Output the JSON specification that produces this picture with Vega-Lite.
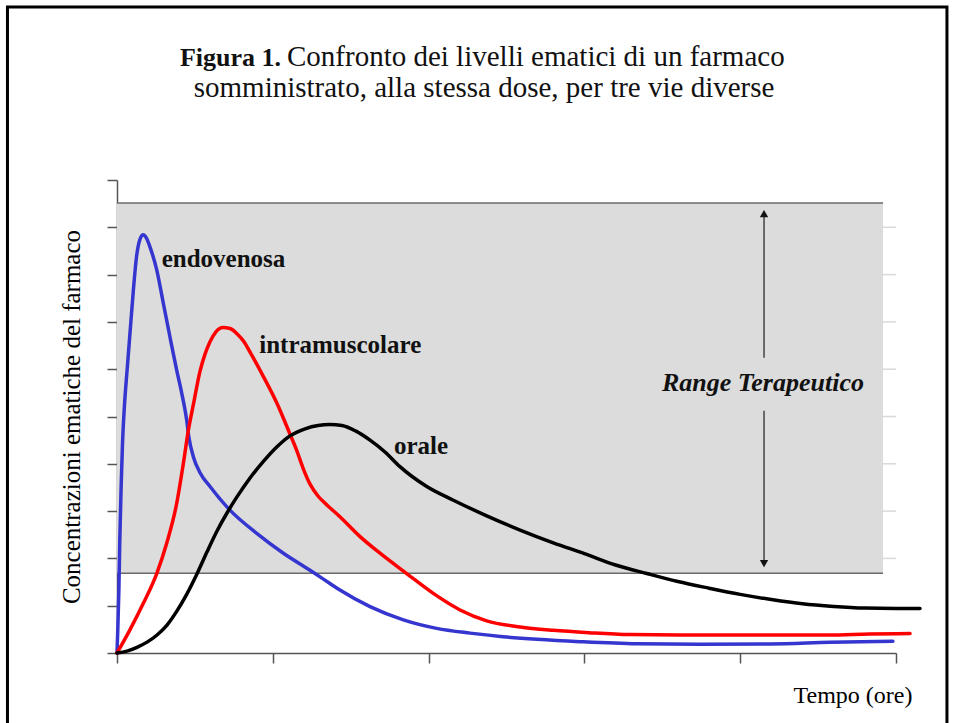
{
  "$schema": "https://vega.github.io/schema/vega-lite/v6.json",
  "width": 779,
  "height": 473,
  "autosize": {"type": "none"},
  "padding": {"left": 117, "top": 180, "right": 58, "bottom": 70},
  "background": "white",
  "config": {"view": {"stroke": null}, "font": "Liberation Serif"},
  "datasets": {
    "curves": [
      {"via": "endovenosa", "t": 0, "c": 0},
      {"via": "endovenosa", "t": 0.005, "c": 0.49},
      {"via": "endovenosa", "t": 0.012, "c": 1.33},
      {"via": "endovenosa", "t": 0.018, "c": 2.39},
      {"via": "endovenosa", "t": 0.026, "c": 3.45},
      {"via": "endovenosa", "t": 0.035, "c": 4.4},
      {"via": "endovenosa", "t": 0.048, "c": 5.24},
      {"via": "endovenosa", "t": 0.066, "c": 6.03},
      {"via": "endovenosa", "t": 0.085, "c": 6.83},
      {"via": "endovenosa", "t": 0.105, "c": 7.67},
      {"via": "endovenosa", "t": 0.125, "c": 8.37},
      {"via": "endovenosa", "t": 0.144, "c": 8.71},
      {"via": "endovenosa", "t": 0.167, "c": 8.84},
      {"via": "endovenosa", "t": 0.189, "c": 8.77},
      {"via": "endovenosa", "t": 0.212, "c": 8.58},
      {"via": "endovenosa", "t": 0.255, "c": 8.1},
      {"via": "endovenosa", "t": 0.297, "c": 7.4},
      {"via": "endovenosa", "t": 0.34, "c": 6.68},
      {"via": "endovenosa", "t": 0.383, "c": 5.98},
      {"via": "endovenosa", "t": 0.415, "c": 5.5},
      {"via": "endovenosa", "t": 0.447, "c": 4.93},
      {"via": "endovenosa", "t": 0.462, "c": 4.55},
      {"via": "endovenosa", "t": 0.49, "c": 4.15},
      {"via": "endovenosa", "t": 0.533, "c": 3.81},
      {"via": "endovenosa", "t": 0.597, "c": 3.52},
      {"via": "endovenosa", "t": 0.725, "c": 3.02},
      {"via": "endovenosa", "t": 0.897, "c": 2.53},
      {"via": "endovenosa", "t": 1.068, "c": 2.11},
      {"via": "endovenosa", "t": 1.239, "c": 1.75},
      {"via": "endovenosa", "t": 1.367, "c": 1.47},
      {"via": "endovenosa", "t": 1.431, "c": 1.33},
      {"via": "endovenosa", "t": 1.624, "c": 0.98},
      {"via": "endovenosa", "t": 1.838, "c": 0.7},
      {"via": "endovenosa", "t": 2.052, "c": 0.52},
      {"via": "endovenosa", "t": 2.266, "c": 0.42},
      {"via": "endovenosa", "t": 2.477, "c": 0.345},
      {"via": "endovenosa", "t": 2.696, "c": 0.29},
      {"via": "endovenosa", "t": 2.972, "c": 0.24},
      {"via": "endovenosa", "t": 3.338, "c": 0.195},
      {"via": "endovenosa", "t": 3.742, "c": 0.185},
      {"via": "endovenosa", "t": 4.19, "c": 0.19},
      {"via": "endovenosa", "t": 4.576, "c": 0.225},
      {"via": "endovenosa", "t": 4.98, "c": 0.25},
      {"via": "intramuscolare", "t": 0, "c": 0},
      {"via": "intramuscolare", "t": 0.083, "c": 0.49},
      {"via": "intramuscolare", "t": 0.169, "c": 1.05},
      {"via": "intramuscolare", "t": 0.255, "c": 1.68},
      {"via": "intramuscolare", "t": 0.319, "c": 2.32},
      {"via": "intramuscolare", "t": 0.383, "c": 3.16},
      {"via": "intramuscolare", "t": 0.426, "c": 4.01},
      {"via": "intramuscolare", "t": 0.458, "c": 4.71},
      {"via": "intramuscolare", "t": 0.49, "c": 5.25},
      {"via": "intramuscolare", "t": 0.533, "c": 5.96},
      {"via": "intramuscolare", "t": 0.565, "c": 6.32},
      {"via": "intramuscolare", "t": 0.597, "c": 6.58},
      {"via": "intramuscolare", "t": 0.635, "c": 6.79},
      {"via": "intramuscolare", "t": 0.68, "c": 6.88},
      {"via": "intramuscolare", "t": 0.725, "c": 6.86},
      {"via": "intramuscolare", "t": 0.77, "c": 6.75},
      {"via": "intramuscolare", "t": 0.815, "c": 6.58},
      {"via": "intramuscolare", "t": 0.854, "c": 6.36},
      {"via": "intramuscolare", "t": 0.937, "c": 5.86},
      {"via": "intramuscolare", "t": 1.025, "c": 5.29},
      {"via": "intramuscolare", "t": 1.11, "c": 4.63},
      {"via": "intramuscolare", "t": 1.155, "c": 4.27},
      {"via": "intramuscolare", "t": 1.194, "c": 3.91},
      {"via": "intramuscolare", "t": 1.239, "c": 3.57},
      {"via": "intramuscolare", "t": 1.29, "c": 3.32},
      {"via": "intramuscolare", "t": 1.354, "c": 3.11},
      {"via": "intramuscolare", "t": 1.431, "c": 2.88},
      {"via": "intramuscolare", "t": 1.56, "c": 2.46},
      {"via": "intramuscolare", "t": 1.688, "c": 2.11},
      {"via": "intramuscolare", "t": 1.859, "c": 1.68},
      {"via": "intramuscolare", "t": 2.03, "c": 1.26},
      {"via": "intramuscolare", "t": 2.202, "c": 0.91},
      {"via": "intramuscolare", "t": 2.373, "c": 0.68},
      {"via": "intramuscolare", "t": 2.587, "c": 0.55},
      {"via": "intramuscolare", "t": 2.8, "c": 0.48},
      {"via": "intramuscolare", "t": 3.03, "c": 0.43},
      {"via": "intramuscolare", "t": 3.29, "c": 0.39},
      {"via": "intramuscolare", "t": 3.61, "c": 0.38},
      {"via": "intramuscolare", "t": 4.57, "c": 0.38},
      {"via": "intramuscolare", "t": 4.83, "c": 0.4},
      {"via": "intramuscolare", "t": 5.09, "c": 0.41},
      {"via": "orale", "t": 0, "c": 0},
      {"via": "orale", "t": 0.064, "c": 0.04},
      {"via": "orale", "t": 0.128, "c": 0.12},
      {"via": "orale", "t": 0.193, "c": 0.23},
      {"via": "orale", "t": 0.257, "c": 0.38},
      {"via": "orale", "t": 0.321, "c": 0.59},
      {"via": "orale", "t": 0.385, "c": 0.89},
      {"via": "orale", "t": 0.449, "c": 1.25},
      {"via": "orale", "t": 0.513, "c": 1.67},
      {"via": "orale", "t": 0.578, "c": 2.14},
      {"via": "orale", "t": 0.642, "c": 2.58},
      {"via": "orale", "t": 0.706, "c": 2.96},
      {"via": "orale", "t": 0.77, "c": 3.3},
      {"via": "orale", "t": 0.854, "c": 3.7},
      {"via": "orale", "t": 0.937, "c": 4.04},
      {"via": "orale", "t": 1.027, "c": 4.36},
      {"via": "orale", "t": 1.11, "c": 4.59},
      {"via": "orale", "t": 1.207, "c": 4.74},
      {"via": "orale", "t": 1.29, "c": 4.81},
      {"via": "orale", "t": 1.367, "c": 4.83},
      {"via": "orale", "t": 1.444, "c": 4.81},
      {"via": "orale", "t": 1.534, "c": 4.69},
      {"via": "orale", "t": 1.624, "c": 4.5},
      {"via": "orale", "t": 1.72, "c": 4.25},
      {"via": "orale", "t": 1.816, "c": 3.94},
      {"via": "orale", "t": 1.988, "c": 3.52},
      {"via": "orale", "t": 2.159, "c": 3.23},
      {"via": "orale", "t": 2.373, "c": 2.9},
      {"via": "orale", "t": 2.587, "c": 2.6},
      {"via": "orale", "t": 2.8, "c": 2.33},
      {"via": "orale", "t": 3.0, "c": 2.1},
      {"via": "orale", "t": 3.2, "c": 1.86},
      {"via": "orale", "t": 3.4, "c": 1.68},
      {"via": "orale", "t": 3.6, "c": 1.51},
      {"via": "orale", "t": 3.8, "c": 1.37},
      {"via": "orale", "t": 4.0, "c": 1.24},
      {"via": "orale", "t": 4.2, "c": 1.13},
      {"via": "orale", "t": 4.4, "c": 1.04},
      {"via": "orale", "t": 4.6, "c": 0.985},
      {"via": "orale", "t": 4.8, "c": 0.95},
      {"via": "orale", "t": 5.0, "c": 0.94},
      {"via": "orale", "t": 5.154, "c": 0.94}
    ],
    "labels": [
      {"text": "endovenosa", "t": 0.287, "c": 8.17},
      {"text": "intramuscolare", "t": 0.913, "c": 6.34},
      {"text": "orale", "t": 1.778, "c": 4.21}
    ]
  },
  "layer": [
    {
      "data": {"values": [{"x0": -0.703, "x1": 5.327, "y0": -1.9, "y1": 13.66}]},
      "mark": {"type": "rect", "fill": null, "fillOpacity": 0, "stroke": "black", "strokeWidth": 3},
      "encoding": {
        "x": {"field": "x0", "type": "quantitative", "scale": {"domain": [0, 5], "nice": false, "zero": false}, "axis": {"values": [0, 1, 2, 3, 4, 5], "labels": false, "grid": false, "ticks": true, "tickSize": 10, "tickColor": "#555", "tickWidth": 1.5, "domainColor": "#555", "domainWidth": 1.5, "title": "Tempo (ore)", "titleFont": "Liberation Serif", "titleFontSize": 24, "titleFontWeight": "normal", "titleColor": "black", "titleX": 795, "titleY": 49, "titleAlign": "right", "titleBaseline": "alphabetic"}},
        "x2": {"field": "x1"},
        "y": {"field": "y0", "type": "quantitative", "scale": {"domain": [0, 10], "nice": false, "zero": false}, "axis": {"values": [0, 1, 2, 3, 4, 5, 6, 7, 8, 9, 10], "labels": false, "grid": false, "ticks": true, "tickSize": 10, "tickColor": "#555", "tickWidth": 1.5, "domainColor": "#555", "domainWidth": 1.5, "title": "Concentrazioni ematiche del farmaco", "titleFont": "Liberation Serif", "titleFontSize": 25, "titleFontWeight": "normal", "titleColor": "black", "titlePadding": 22}},
        "y2": {"field": "y1"}
      }
    },
    {
      "data": {"values": [{"g": 2}, {"g": 3}, {"g": 4}, {"g": 5}, {"g": 6}, {"g": 7}, {"g": 8}, {"g": 9}]},
      "mark": {"type": "rule", "color": "#d9d9d9", "strokeWidth": 1.5},
      "encoding": {
        "x": {"datum": 4.9, "type": "quantitative"},
        "x2": {"datum": 5},
        "y": {"field": "g", "type": "quantitative"}
      }
    },
    {
      "data": {"values": [{"x0": 0, "x1": 4.917, "y0": 1.685, "y1": 9.514}]},
      "mark": {"type": "rect", "color": "#dcdcdc"},
      "encoding": {
        "x": {"field": "x0", "type": "quantitative"},
        "x2": {"field": "x1"},
        "y": {"field": "y0", "type": "quantitative"},
        "y2": {"field": "y1"}
      }
    },
    {
      "data": {"values": [{"b": 1.685}, {"b": 9.514}]},
      "mark": {"type": "rule", "color": "#6a6a6a", "strokeWidth": 1.5},
      "encoding": {
        "x": {"datum": 0, "type": "quantitative"},
        "x2": {"datum": 4.917},
        "y": {"field": "b", "type": "quantitative"}
      }
    },
    {
      "data": {"values": [{"t": 4.153, "a": 9.3, "b": 6.24}, {"t": 4.153, "a": 5.12, "b": 1.88}]},
      "mark": {"type": "rule", "color": "#444", "strokeWidth": 1.5},
      "encoding": {
        "x": {"field": "t", "type": "quantitative"},
        "y": {"field": "a", "type": "quantitative"},
        "y2": {"field": "b"}
      }
    },
    {
      "data": {"values": [{"t": 4.153, "c": 9.29}]},
      "mark": {"type": "point", "shape": "triangle-up", "filled": true, "color": "#111", "size": 70, "opacity": 1},
      "encoding": {
        "x": {"field": "t", "type": "quantitative"},
        "y": {"field": "c", "type": "quantitative"}
      }
    },
    {
      "data": {"values": [{"t": 4.153, "c": 1.89}]},
      "mark": {"type": "point", "shape": "triangle-down", "filled": true, "color": "#111", "size": 70, "opacity": 1},
      "encoding": {
        "x": {"field": "t", "type": "quantitative"},
        "y": {"field": "c", "type": "quantitative"}
      }
    },
    {
      "data": {"name": "curves"},
      "mark": {"type": "line", "interpolate": "monotone", "strokeWidth": 3.5, "strokeCap": "round", "strokeJoin": "round"},
      "encoding": {
        "x": {"field": "t", "type": "quantitative"},
        "y": {"field": "c", "type": "quantitative"},
        "color": {"field": "via", "type": "nominal", "scale": {"domain": ["endovenosa", "intramuscolare", "orale"], "range": ["#3535cf", "#ff0000", "#000000"]}, "legend": null},
        "order": {"field": "t", "type": "quantitative"}
      }
    },
    {
      "data": {"name": "labels"},
      "mark": {"type": "text", "align": "left", "baseline": "alphabetic", "font": "Liberation Serif", "fontWeight": "bold", "fontSize": 25, "color": "#111"},
      "encoding": {
        "x": {"field": "t", "type": "quantitative"},
        "y": {"field": "c", "type": "quantitative"},
        "text": {"field": "text"}
      }
    },
    {
      "data": {"values": [{"text": "Range Terapeutico", "t": 4.146, "c": 5.54}]},
      "mark": {"type": "text", "align": "center", "baseline": "alphabetic", "font": "Liberation Serif", "fontWeight": "bold", "fontStyle": "italic", "fontSize": 26, "color": "#111"},
      "encoding": {
        "x": {"field": "t", "type": "quantitative"},
        "y": {"field": "c", "type": "quantitative"},
        "text": {"field": "text"}
      }
    },
    {
      "data": {"values": [{"text": "Figura 1.", "t": 1.053, "c": 12.4}]},
      "mark": {"type": "text", "align": "right", "baseline": "alphabetic", "font": "Liberation Serif", "fontWeight": "bold", "fontSize": 26, "color": "#111"},
      "encoding": {
        "x": {"field": "t", "type": "quantitative"},
        "y": {"field": "c", "type": "quantitative"},
        "text": {"field": "text"}
      }
    },
    {
      "data": {"values": [{"text": "Confronto dei livelli ematici di un farmaco", "t": 1.091, "c": 12.4}]},
      "mark": {"type": "text", "align": "left", "baseline": "alphabetic", "font": "Liberation Serif", "fontWeight": "normal", "fontSize": 29, "color": "#111"},
      "encoding": {
        "x": {"field": "t", "type": "quantitative"},
        "y": {"field": "c", "type": "quantitative"},
        "text": {"field": "text"}
      }
    },
    {
      "data": {"values": [{"text": "somministrato, alla stessa dose, per tre vie diverse", "t": 2.356, "c": 11.76}]},
      "mark": {"type": "text", "align": "center", "baseline": "alphabetic", "font": "Liberation Serif", "fontWeight": "normal", "fontSize": 29, "color": "#111"},
      "encoding": {
        "x": {"field": "t", "type": "quantitative"},
        "y": {"field": "c", "type": "quantitative"},
        "text": {"field": "text"}
      }
    }
  ]
}
